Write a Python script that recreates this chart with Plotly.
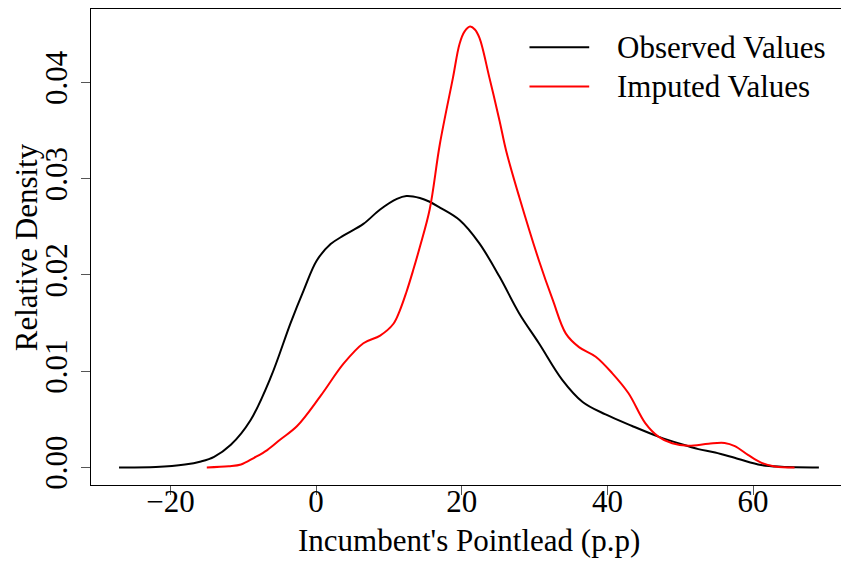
import plotly.graph_objects as go

# Observed values density (black)
obs_x = [-27.05, -22.0, -18.0, -15.8, -14.0, -11.7, -9.0, -6.2, -3.5, -1.7, 0.1, 2.0, 3.8,
         6.5, 8.8, 11.1, 12.4, 14.25, 15.6, 17.0, 19.7, 22.4, 25.2, 27.9, 30.6, 33.8, 36.6,
         39.75, 43.4, 47.0, 50.2, 52.5, 54.8, 58.0, 61.1, 63.9, 69.04]
obs_y = [0.0, 0.00005, 0.0003, 0.00062, 0.0011, 0.00235, 0.0049, 0.0094, 0.0150, 0.0184,
         0.0215, 0.0232, 0.0241, 0.0253, 0.0268, 0.0279, 0.0282, 0.0280, 0.0276, 0.0270,
         0.0257, 0.0233, 0.0198, 0.0160, 0.0129, 0.0091, 0.0068, 0.0055, 0.0043, 0.0032,
         0.0024, 0.0019, 0.00155, 0.00087, 0.00025, 0.00007, 0.0]

# Imputed values density (red)
imp_x = [-15.0, -12.0, -10.3, -8.5, -6.7, -4.9, -2.6, 0.6, 3.8, 6.5, 8.8, 10.6, 11.5, 12.4,
         13.3, 14.25, 15.6, 17.0, 18.8, 19.7, 20.4, 21.15, 21.8, 22.45, 23.8, 25.2, 26.1,
         27.9, 30.6, 32.5, 34.3, 36.1, 38.4, 40.65, 42.9, 45.2, 47.0, 48.9, 51.1, 53.9, 56.1,
         57.5, 59.3, 61.1, 63.0, 65.7]
imp_y = [0.0, 0.00012, 0.0003, 0.001, 0.0018, 0.0029, 0.0043, 0.0074, 0.0108, 0.0129, 0.0137,
         0.0149, 0.0163, 0.0182, 0.0204, 0.0229, 0.0268, 0.0336, 0.0405, 0.0440, 0.0453,
         0.0458, 0.0455, 0.0446, 0.0405, 0.0360, 0.0329, 0.0281, 0.0215, 0.0174, 0.0139,
         0.0125, 0.0115, 0.0098, 0.0077, 0.0046, 0.0032, 0.0025, 0.00225, 0.00246, 0.00253,
         0.0022, 0.0013, 0.0005, 0.0001, 0.0]

x_ticks = [-20, 0, 20, 40, 60]
x_tick_labels = ["\u221220", "0", "20", "40", "60"]
y_ticks = [0.00, 0.01, 0.02, 0.03, 0.04]
y_tick_labels = ["0.00", "0.01", "0.02", "0.03", "0.04"]
series_names = ["Observed Values", "Imputed Values"]
series_colors = ["black", "red"]

FONT = "Liberation Serif, Times New Roman, serif"
FS = 31

fig = go.Figure()
fig.add_trace(go.Scatter(x=obs_x, y=obs_y, mode="lines", name=series_names[0],
                         line=dict(color=series_colors[0], width=2, shape="spline", smoothing=1.0)))
fig.add_trace(go.Scatter(x=imp_x, y=imp_y, mode="lines", name=series_names[1],
                         line=dict(color=series_colors[1], width=2, shape="spline", smoothing=1.0)))

# legend drawn manually (R style)
leg_y = [0.9196, 0.837]
for i in range(2):
    fig.add_shape(type="line", xref="paper", yref="paper", x0=0.580, x1=0.659,
                  y0=leg_y[i], y1=leg_y[i], line=dict(color=series_colors[i], width=2))
    fig.add_annotation(xref="paper", yref="paper", x=0.6926, y=leg_y[i], text=series_names[i],
                       showarrow=False, xanchor="left", yanchor="middle",
                       font=dict(family=FONT, size=FS, color="black"))

# axis titles
fig.add_annotation(xref="paper", yref="paper", x=0.5, y=-0.1176, text="Incumbent's Pointlead (p.p)",
                   showarrow=False, xanchor="center", yanchor="middle",
                   font=dict(family=FONT, size=FS, color="black"))
fig.add_annotation(xref="paper", yref="paper", x=-0.0856, y=0.5, text="Relative Density",
                   showarrow=False, xanchor="center", yanchor="middle", textangle=-90,
                   font=dict(family=FONT, size=FS, color="black"))

# page body has an 8px margin, so figure is sized to fit the 849x572 window
fig.update_layout(
    width=841, height=564, autosize=False,
    margin=dict(l=83, r=2, t=1, b=87, pad=0),
    paper_bgcolor="white", plot_bgcolor="white",
    showlegend=False,
    font=dict(family=FONT, size=FS, color="black"),
)
fig.update_xaxes(range=[-30.9, 72.9], tickvals=x_ticks, ticktext=x_tick_labels,
                 showgrid=False, zeroline=False, showline=True, mirror=True, automargin=False,
                 linecolor="black", linewidth=1, ticks="outside", ticklen=9,
                 tickcolor="#555", tickwidth=1, ticklabelstandoff=-20,
                 tickfont=dict(family=FONT, size=FS, color="black"))
fig.update_yaxes(range=[-0.00183, 0.04763], tickvals=y_ticks, ticktext=y_tick_labels,
                 showgrid=False, zeroline=False, showline=True, mirror=True, automargin=False,
                 linecolor="black", linewidth=1, ticks="outside", ticklen=9,
                 tickcolor="#555", tickwidth=1, tickangle=-90, ticklabelstandoff=2,
                 tickfont=dict(family=FONT, size=FS, color="black"))

fig.write_html("out.html")
